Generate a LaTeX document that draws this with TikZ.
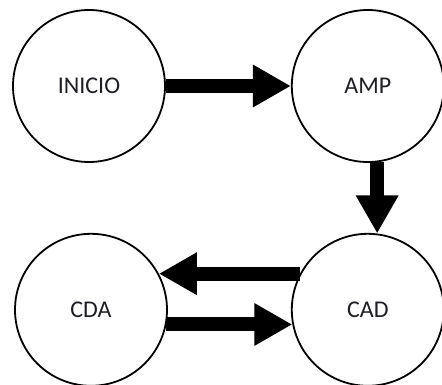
\documentclass[tikz,border=0pt]{standalone}
\usepackage{fontspec}
\setmainfont{Carlito}
\usepackage{tikz}
\usetikzlibrary{arrows.meta,automata,positioning}

\begin{document}
\begin{tikzpicture}[>={Triangle[length=38pt,width=40pt]},
		every state/.style = {draw, circle, line width=1.8pt, fill=white, inner sep=1pt, minimum size=152pt,
			font=\fontsize{24pt}{28pt}\selectfont, text={rgb,255:red,30;green,30;blue,35}},
		bar/.style = {line width=14pt}
		]
		\useasboundingbox (0,0) rectangle (442pt,-384pt);
		\node (ini) [state] at (89pt,-86pt) {INICIO};
		\node (amp) [state,right=125pt of ini]  {AMP};
		\node (cad) [state,below=70pt of amp]   {CAD};
		\node (cda) [state,left=123pt of cad]   {CDA};
		
		\path[->] 
		(ini.east)  edge [bar]  (amp.west)
		(amp.-83)   edge [bar]  (cad.83)
		(cad.152)   edge [bar]  (cda.28)
		(cda.-11)   edge [bar]  (cad.191);
		
		\end{tikzpicture}
\end{document}
